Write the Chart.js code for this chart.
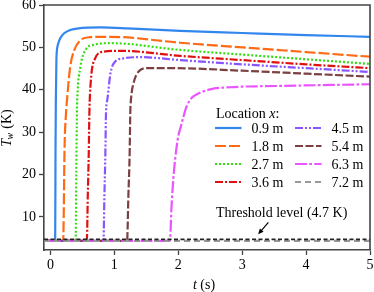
<!DOCTYPE html>
<html><head><meta charset="utf-8">
<script src="https://cdn.jsdelivr.net/npm/chart.js@4/dist/chart.umd.min.js"></script>
<style>html,body{margin:0;padding:0;background:#fff;}canvas{display:block;}</style>
</head><body>
<canvas id="c" width="374" height="292"></canvas>
<script>
// ---- data ----
const locations = ['0.9 m','1.8 m','2.7 m','3.6 m','4.5 m','5.4 m','6.3 m','7.2 m'];
const t09 = [-0.1, 0.075, 0.08, 0.085, 0.094, 0.1, 0.117, 0.156, 0.22, 0.31, 0.44, 0.78, 1.2, 2.03, 3.0, 4.0, 5.0];
const T09 = [4.35, 4.35, 25, 37, 47, 49, 50.6, 52.2, 53.4, 54.1, 54.5, 54.7, 54.5, 53.9, 53.4, 52.9, 52.5];
const t18 = [-0.1, 0.2, 0.21, 0.22, 0.245, 0.26, 0.31, 0.375, 0.47, 0.62, 0.93, 2.03, 3.0, 4.0, 5.0];
const T18 = [4.35, 4.35, 12, 25, 34.6, 37.6, 45.4, 49.4, 51.7, 52.4, 52.5, 51.1, 50.0, 48.9, 47.8];
const t27 = [-0.1, 0.395, 0.405, 0.415, 0.42, 0.47, 0.55, 0.675, 0.94, 2.03, 3.0, 4.0, 5.0];
const T27 = [4.35, 4.35, 20, 34.6, 37.6, 45.4, 49.4, 50.6, 51.0, 49.4, 48.3, 47.2, 46.1];
const t36 = [-0.1, 0.57, 0.585, 0.6, 0.61, 0.63, 0.70, 0.83, 1.09, 2.03, 3.0, 4.0, 5.0];
const T36 = [4.35, 4.35, 15, 25, 34.6, 41.6, 47.4, 49.0, 49.2, 48.0, 47.0, 46.0, 45.1];
const t45 = [-0.1, 0.83, 0.845, 0.86, 0.87, 0.89, 0.94, 1.01, 1.14, 1.40, 2.03, 3.0, 4.0, 5.0];
const T45 = [4.35, 4.35, 15, 25, 34.6, 37.6, 43.9, 46.6, 47.4, 47.7, 47.0, 46.0, 45.1, 44.2];
const t54 = [-0.1, 1.2, 1.22, 1.24, 1.25, 1.26, 1.30, 1.38, 1.51, 1.92, 3.0, 4.0, 5.0];
const T54 = [4.35, 4.35, 15, 25, 34.6, 37.6, 41.5, 44.3, 45.1, 45.1, 44.5, 43.8, 43.1];
const t63 = [-0.1, 1.87, 1.895, 1.93, 1.99, 2.04, 2.13, 2.2, 2.3, 2.5, 2.81, 3.59, 5.0];
const T63 = [4.35, 4.35, 12.4, 20.3, 28.1, 31.3, 36.0, 37.9, 39.0, 40.1, 40.6, 40.9, 41.3];
const t72 = [-0.1, 5.0];
const T72 = [4.35, 4.35];
const thresholdT = [-0.1, 5.0];
const thresholdValue = 4.7;
const thresholdLabel = 'Threshold level (4.7 K)';
const xTicks = [0, 1, 2, 3, 4, 5];
const yTicks = [10, 20, 30, 40, 50, 60];

// ---- styles ----
const FONT = '"Liberation Serif", "Times New Roman", serif';
const seriesT = [t09, t18, t27, t36, t45, t54, t63, t72];
const seriesV = [T09, T18, T27, T36, T45, T54, T63, T72];
const colors = ['#3287ee', '#ff6a14', '#33dd11', '#e01010', '#8855ff', '#7c4040', '#ea55ff', '#999999'];
const dashes = [[], [11, 3], [2, 2], [8, 2, 2, 2], [8, 2, 2, 2, 2, 2], [8, 2.5], [12, 2.3, 2.7, 2.3], [6, 4]];

const pts = (ts, vs) => ts.map((t, i) => ({x: t, y: vs[i]}));

const datasets = seriesT.map((ts, i) => ({
  label: locations[i],
  data: pts(ts, seriesV[i]),
  borderColor: colors[i],
  borderWidth: 2.2,
  borderDash: dashes[i],
  pointRadius: 0,
  cubicInterpolationMode: 'monotone',
  fill: false,
  order: 9 - i
}));
datasets.push({
  label: 'threshold',
  data: thresholdT.map(t => ({x: t, y: thresholdValue})),
  borderColor: '#222222',
  borderWidth: 1.8,
  borderDash: [4, 2.5],
  pointRadius: 0,
  fill: false,
  order: 0
});

const AX = '#444444';

const decor = {
  id: 'decor',
  afterDraw(chart) {
    const ctx = chart.ctx, a = chart.chartArea;
    const xs = chart.scales.x, ys = chart.scales.y;
    ctx.save();
    // top & right spines
    ctx.strokeStyle = AX; ctx.lineWidth = 1.6; ctx.setLineDash([]);
    ctx.beginPath();
    ctx.moveTo(a.left, a.top); ctx.lineTo(a.right, a.top); ctx.lineTo(a.right, a.bottom);
    ctx.stroke();

    // legend
    ctx.fillStyle = '#000';
    ctx.textBaseline = 'alphabetic';
    ctx.textAlign = 'left';
    ctx.font = '14px ' + FONT;
    let tx = 216;
    ctx.fillText('Location ', tx, 117.5);
    tx += ctx.measureText('Location ').width;
    ctx.font = 'italic 14px ' + FONT;
    ctx.fillText('x', tx, 117.5);
    tx += ctx.measureText('x').width;
    ctx.font = '14px ' + FONT;
    ctx.fillText(':', tx, 117.5);
    for (let i = 0; i < locations.length; i++) {
      const col = Math.floor(i / 4), row = i % 4;
      const lx = col ? 295 : 215, y = 128 + row * 18;
      ctx.strokeStyle = colors[i]; ctx.lineWidth = 2.2; ctx.setLineDash(dashes[i]);
      ctx.beginPath(); ctx.moveTo(lx, y); ctx.lineTo(lx + 26.5, y); ctx.stroke();
      ctx.setLineDash([]);
      ctx.fillStyle = '#000';
      ctx.fillText(locations[i], lx + 36.5, y + 4.7);
    }

    // threshold annotation
    ctx.font = '14px ' + FONT;
    ctx.fillText(thresholdLabel, xs.getPixelForValue(2.59), ys.getPixelForValue(10.0));
    const x1 = xs.getPixelForValue(3.41), y1 = ys.getPixelForValue(8.7);
    const x2 = xs.getPixelForValue(3.25), y2 = ys.getPixelForValue(5.9);
    const ang = Math.atan2(y2 - y1, x2 - x1);
    ctx.strokeStyle = '#000'; ctx.lineWidth = 1.2;
    ctx.beginPath(); ctx.moveTo(x1, y1);
    ctx.lineTo(x2 - 3 * Math.cos(ang), y2 - 3 * Math.sin(ang)); ctx.stroke();
    ctx.beginPath();
    ctx.moveTo(x2, y2);
    ctx.lineTo(x2 - 6 * Math.cos(ang - 0.42), y2 - 6 * Math.sin(ang - 0.42));
    ctx.lineTo(x2 - 6 * Math.cos(ang + 0.42), y2 - 6 * Math.sin(ang + 0.42));
    ctx.closePath(); ctx.fillStyle = '#000'; ctx.fill();

    // x axis title: t (s)
    ctx.font = 'italic 14px ' + FONT;
    const wt = ctx.measureText('t').width;
    ctx.font = '14px ' + FONT;
    const ws = ctx.measureText(' (s)').width;
    let sx = 204 - (wt + ws) / 2;
    ctx.font = 'italic 14px ' + FONT; ctx.fillText('t', sx, 289);
    ctx.font = '14px ' + FONT; ctx.fillText(' (s)', sx + wt, 289);

    // y axis title: T_w (K)
    ctx.translate(10.5, 128);
    ctx.rotate(-Math.PI / 2);
    ctx.font = 'italic 14px ' + FONT;
    const wT = ctx.measureText('T').width;
    ctx.font = 'italic 10px ' + FONT;
    const ww = ctx.measureText('w').width;
    ctx.font = '14px ' + FONT;
    const wK = ctx.measureText(' (K)').width;
    let px = -(wT + ww + wK) / 2;
    ctx.font = 'italic 14px ' + FONT; ctx.fillText('T', px, 0); px += wT - 0.5;
    ctx.font = 'italic 10px ' + FONT; ctx.fillText('w', px, 2.5); px += ww + 0.5;
    ctx.font = '14px ' + FONT; ctx.fillText(' (K)', px, 0);
    ctx.restore();
  }
};

new Chart(document.getElementById('c'), {
  type: 'line',
  data: { datasets },
  options: {
    responsive: false,
    animation: false,
    devicePixelRatio: 1,
    layout: { padding: { left: 0, right: 4, top: 5, bottom: 0 } },
    plugins: { legend: { display: false }, tooltip: { enabled: false } },
    scales: {
      x: {
        type: 'linear', min: -0.1, max: 5,
        afterBuildTicks(s) { s.ticks = xTicks.map(v => ({ value: v })); },
        afterFit(s) { s.height = 42; s.paddingLeft = 0; s.paddingRight = 0; },
        grid: { drawOnChartArea: false, drawTicks: true, tickLength: 5, tickColor: AX, tickWidth: 1.3 },
        border: { display: true, color: AX, width: 1.6 },
        ticks: { font: { family: FONT, size: 14 }, color: '#000', padding: 2, maxRotation: 0 }
      },
      y: {
        type: 'linear', min: 2.2, max: 60,
        afterBuildTicks(s) { s.ticks = yTicks.map(v => ({ value: v })); },
        afterFit(s) { s.width = 44; s.paddingTop = 0; s.paddingBottom = 0; },
        grid: { drawOnChartArea: false, drawTicks: true, tickLength: 5, tickColor: AX, tickWidth: 1.3 },
        border: { display: true, color: AX, width: 1.6 },
        ticks: { font: { family: FONT, size: 14 }, color: '#000', padding: 3 }
      }
    }
  },
  plugins: [decor]
});
</script>
</body></html>
